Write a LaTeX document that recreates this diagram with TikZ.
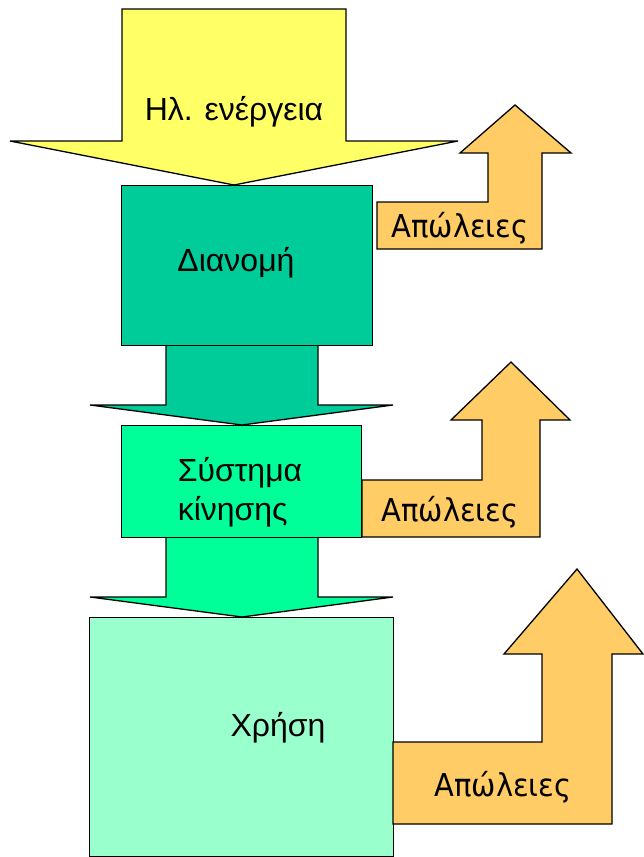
\documentclass[tikz,border=0pt]{standalone}
\usepackage{fontspec}
\setmainfont{Liberation Sans}
\newfontfamily\lossfont[FakeStretch=0.92]{DejaVu Sans}
\definecolor{cyellow}{HTML}{FFFF66}
\definecolor{cteal}{HTML}{00CC99}
\definecolor{cgreen}{HTML}{00FF99}
\definecolor{clight}{HTML}{99FFCC}
\definecolor{corange}{HTML}{FFCC66}
\begin{document}
\begin{tikzpicture}[x=1pt,y=-1pt,
  outl/.style={draw=black,line width=1.3pt,line join=miter},
  boxst/.style={outl,rectangle,anchor=north west,inner sep=0pt},
  txt/.style={font=\fontsize{32}{40}\selectfont,inner sep=0pt},
  losstxt/.style={font=\lossfont\fontsize{31.5}{36}\selectfont,inner sep=0pt}]
\useasboundingbox (0,0) rectangle (644,857);
% Input arrow
\draw[outl,fill=cyellow] (122,9) -- (346,9) -- (346,141) -- (458,141) -- (234,185) -- (10,141) -- (122,141) -- cycle;
\node[txt] (in) at (234,112) {Ηλ. ενέργεια};
% Flow arrows between boxes
\draw[outl,fill=cteal] (166,345) -- (318,345) -- (318,405) -- (393,405) -- (242,425) -- (90,405) -- (166,405) -- cycle;
\draw[outl,fill=cgreen] (166,537) -- (318,537) -- (318,597) -- (393,597) -- (242,617) -- (90,597) -- (166,597) -- cycle;
% Boxes
\node[boxst,fill=cteal,minimum width=251pt,minimum height=160pt] (b1) at (121,185) {};
\node[txt] (t1) at (236,263) {Διανομή};
\node[boxst,fill=cgreen,minimum width=240pt,minimum height=112pt] (b2) at (121,425) {};
\node[txt,align=left] (t2) at (240,492) {Σύστημα\\[-0.5pt]κίνησης};
\node[boxst,fill=clight,minimum width=304pt,minimum height=239pt] (b3) at (89,617) {};
\node[txt] (t3) at (278,728) {Χρήση};
% Loss arrows
\draw[outl,fill=corange] (377,202) -- (488,202) -- (488,153) -- (460,153) -- (515,105) -- (571,153) -- (542,153) -- (542,249) -- (377,249) -- cycle;
\node[losstxt] (l1) at (460,228) {Απώλειες};
\draw[outl,fill=corange] (362,480) -- (482,480) -- (482,420) -- (451,420) -- (511,362) -- (570,420) -- (540,420) -- (540,537) -- (362,537) -- cycle;
\node[losstxt] (l2) at (450,512) {Απώλειες};
\draw[outl,fill=corange] (393,742) -- (542,742) -- (542,654) -- (504,654) -- (577,569) -- (643,654) -- (612,654) -- (612,824) -- (393,824) -- cycle;
\node[losstxt] (l3) at (503,787) {Απώλειες};
\end{tikzpicture}
\end{document}
